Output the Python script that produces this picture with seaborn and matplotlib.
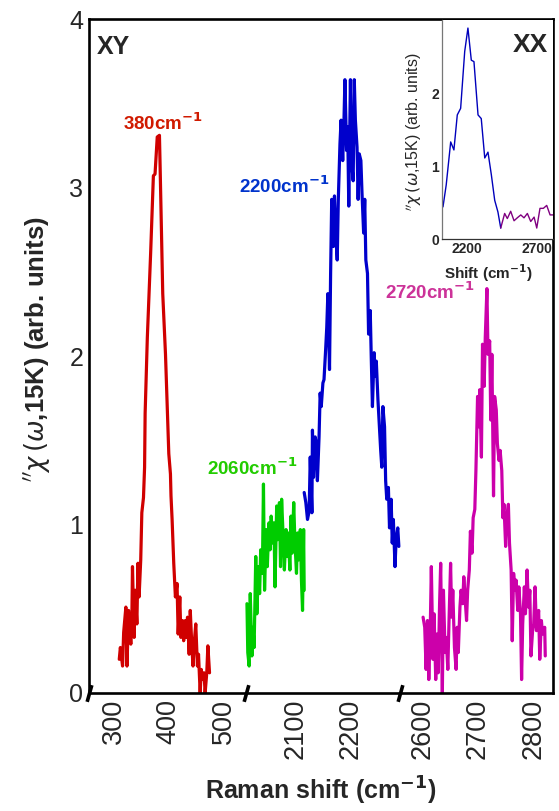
import numpy as np
import pandas as pd
import matplotlib
matplotlib.use("Agg")
import matplotlib.pyplot as plt
import seaborn as sns
from matplotlib.transforms import blended_transform_factory
from matplotlib.ticker import NullLocator

# ---------------- data ----------------
red_x = [310, 312, 316, 318, 322, 324, 327, 331, 333, 334, 337, 339, 342, 344, 346, 349, 351, 354,
         356, 357, 361, 367, 372, 375, 379, 383, 384, 389, 394, 400, 403, 404, 406, 409, 412, 415,
         417, 420, 422, 425, 427, 430, 432, 434, 437, 439, 442, 444, 447, 449, 452, 454, 457, 459,
         461, 464, 466, 469, 471, 474]
red_y = [0.20, 0.27, 0.16, 0.36, 0.51, 0.16, 0.49, 0.29, 0.47, 0.75, 0.33, 0.61, 0.41, 0.77, 0.57,
         0.79, 1.07, 1.16, 1.34, 1.66, 2.11, 2.61, 3.07, 3.08, 3.30, 3.31, 3.16, 2.37, 2.01, 1.42,
         1.30, 1.17, 1.03, 0.77, 0.57, 0.65, 0.35, 0.57, 0.33, 0.43, 0.31, 0.43, 0.33, 0.45, 0.23,
         0.49, 0.27, 0.16, 0.33, 0.41, 0.16, 0.23, 0.00, 0.14, 0.08, 0.12, 0.00, 0.12, 0.28, 0.12]

green_x = [2011, 2012.5, 2015, 2017, 2020, 2022, 2024, 2027, 2029, 2032, 2034, 2036, 2039, 2041,
           2043, 2046, 2048, 2051, 2053, 2055, 2058, 2060, 2062, 2065, 2067, 2070, 2072, 2074,
           2077, 2079, 2082, 2084, 2086, 2089, 2091, 2093, 2096, 2098, 2101, 2103, 2105, 2108,
           2110, 2112, 2114, 2115]
green_y = [0.53, 0.24, 0.16, 0.59, 0.22, 0.39, 0.27, 0.81, 0.47, 0.75, 0.59, 0.85, 0.71, 1.24,
           0.61, 0.97, 0.75, 1.01, 0.85, 1.05, 0.89, 1.01, 0.63, 1.11, 0.91, 1.13, 0.75, 1.15,
           0.91, 0.73, 0.97, 0.81, 0.95, 0.73, 1.05, 0.83, 1.13, 0.91, 0.71, 0.95, 0.79, 0.97,
           0.67, 0.49, 0.97, 0.61]

blue_x = [2115, 2118, 2121, 2124, 2126, 2129, 2130, 2132, 2135, 2137, 2139, 2142, 2144, 2146,
          2149, 2151, 2154, 2156, 2158, 2161, 2163, 2165, 2168, 2170, 2173, 2175, 2177, 2180,
          2182, 2185, 2187, 2189, 2192, 2194, 2196, 2199, 2201, 2204, 2206, 2208, 2211, 2213,
          2215, 2218, 2220, 2223, 2225, 2227, 2230, 2232, 2235, 2237, 2239, 2242, 2244, 2246,
          2249, 2251, 2254, 2256, 2258, 2261, 2263, 2265, 2268, 2270, 2273, 2275, 2277, 2280,
          2282, 2285, 2287]
blue_y = [1.19, 1.13, 1.03, 1.08, 1.40, 1.07, 1.56, 1.28, 1.52, 1.48, 1.26, 1.52, 1.78, 1.70,
          1.84, 1.86, 2.04, 2.17, 2.37, 1.92, 2.49, 2.93, 2.65, 2.95, 2.69, 2.57, 2.93, 3.26,
          3.40, 3.16, 3.36, 3.64, 3.22, 3.36, 2.89, 3.64, 3.16, 3.04, 3.64, 3.40, 3.24, 2.93,
          3.20, 3.16, 2.97, 2.73, 2.93, 2.57, 2.49, 2.13, 2.27, 1.97, 1.70, 2.02, 1.88, 1.97,
          1.74, 1.62, 1.44, 1.34, 1.70, 1.58, 1.26, 1.15, 1.22, 0.98, 1.15, 0.89, 1.03, 0.75,
          0.91, 0.98, 0.87]

mag_x = [2600, 2603, 2605.5, 2608, 2610.4, 2613, 2615, 2618, 2620, 2623, 2625, 2627.5, 2630,
         2632, 2635, 2637, 2640, 2642, 2645, 2647, 2650, 2652, 2654, 2657, 2660, 2662, 2664,
         2667, 2669, 2672, 2674, 2677, 2679, 2681, 2684, 2686, 2689, 2691, 2694, 2696, 2699,
         2701, 2703, 2706, 2708, 2711, 2713, 2716, 2718, 2721, 2723, 2725, 2728, 2730, 2733,
         2735, 2738, 2740, 2743, 2745, 2747, 2750, 2752, 2755, 2757, 2760, 2762, 2764.5, 2767,
         2769, 2772, 2774, 2777, 2779, 2781, 2784, 2786, 2789, 2791.5, 2794, 2796, 2799, 2801,
         2803.5, 2806, 2810, 2812, 2815, 2817, 2821, 2822]
mag_y = [0.45, 0.39, 0.14, 0.43, 0.08, 0.37, 0.75, 0.20, 0.47, 0.08, 0.35, 0.12, 0.53, 0.77,
         0.00, 0.61, 0.24, 0.33, 0.14, 0.41, 0.77, 0.45, 0.61, 0.27, 0.14, 0.39, 0.24, 0.51,
         0.61, 0.53, 0.69, 0.53, 0.43, 0.61, 0.73, 0.96, 0.83, 1.04, 1.09, 1.32, 1.76, 1.58,
         1.80, 1.40, 2.07, 1.82, 2.11, 2.40, 2.01, 2.09, 1.62, 2.01, 1.17, 1.76, 1.68, 1.48,
         1.38, 1.44, 1.32, 1.04, 1.12, 0.87, 1.04, 1.12, 0.89, 0.73, 0.31, 0.71, 0.61, 0.67,
         0.49, 0.63, 0.47, 0.08, 0.41, 0.63, 0.47, 0.73, 0.51, 0.61, 0.22, 0.37, 0.41, 0.63,
         0.37, 0.49, 0.20, 0.43, 0.35, 0.39, 0.22]

inset_blue_x = [2031, 2054, 2086, 2109, 2133, 2157, 2186, 2209, 2233, 2252, 2281, 2304, 2329,
                2352, 2376, 2400, 2423, 2443]
inset_blue_y = [0.44, 0.74, 1.33, 1.22, 1.70, 1.79, 2.57, 2.89, 2.45, 2.43, 1.70, 1.65, 1.11,
                1.19, 0.88, 0.53, 0.37, 0.15]
inset_purple_x = [2443, 2471, 2490, 2514, 2538, 2561, 2586, 2609, 2633, 2657, 2681, 2700, 2723,
                  2747, 2771, 2795, 2816]
inset_purple_y = [0.15, 0.35, 0.28, 0.38, 0.25, 0.29, 0.33, 0.29, 0.35, 0.24, 0.30, 0.15, 0.42,
                  0.42, 0.46, 0.33, 0.33]

main_xticks = [300, 400, 500, 2100, 2200, 2600, 2700, 2800]
main_yticks = [0, 1, 2, 3, 4]
inset_xticks = [2200, 2700]
inset_yticks = [0, 1, 2]

peak_labels = ["380", "2060", "2200", "2720"]

# ---------------- style ----------------
sns.set_style("white")
plt.rcParams["font.family"] = ["Liberation Sans", "DejaVu Sans"]
plt.rcParams["mathtext.fontset"] = "dejavusans"

# broken-axis scale: three segments joined without gaps
SEG = [(255, 540), (2009, 2289), (2558, 2836)]


def fwd(x):
    x = np.asarray(x, dtype=float)
    o1 = SEG[0][1] - SEG[0][0]
    o2 = o1 + SEG[1][1] - SEG[1][0]
    return np.where(x < 1274, x - SEG[0][0],
                    np.where(x < 2423, x - SEG[1][0] + o1, x - SEG[2][0] + o2))


def inv(u):
    u = np.asarray(u, dtype=float)
    o1 = SEG[0][1] - SEG[0][0]
    o2 = o1 + SEG[1][1] - SEG[1][0]
    return np.where(u < o1, u + SEG[0][0],
                    np.where(u < o2, u - o1 + SEG[1][0], u - o2 + SEG[2][0]))


fig = plt.figure(figsize=(5.59, 8.11), dpi=100)
ax = fig.add_axes([0.1592, 0.1455, 0.830, 0.831])

series = [
    (red_x, red_y, "#d00000"),
    (green_x, green_y, "#00cc00"),
    (blue_x, blue_y, "#0000cc"),
    (mag_x, mag_y, "#cc00aa"),
]
for xs, ys, col in series:
    df = pd.DataFrame({"shift": xs, "chi": ys})
    sns.lineplot(data=df, x="shift", y="chi", ax=ax, color=col, lw=2.3,
                 estimator=None, sort=False)

ax.set_xscale("function", functions=(fwd, inv))
ax.set_xlim(SEG[0][0], SEG[2][1])
ax.set_ylim(0, 4)
ax.set_xticks(main_xticks)
ax.set_xticklabels([str(t) for t in main_xticks], rotation=90, fontsize=19.5)
ax.xaxis.set_minor_locator(NullLocator())
ax.set_yticks(main_yticks)
ax.set_yticklabels([str(t) for t in main_yticks], fontsize=18)
ax.tick_params(axis="both", direction="in", length=6, width=1.8, pad=4)
for s in ax.spines.values():
    s.set_linewidth(1.9)
    s.set_color("black")

ax.set_xlabel(r"Raman shift (cm$^{\mathbf{-1}}$)", fontsize=18, fontweight="bold")
ax.xaxis.set_label_coords(0.5, -0.122)
ax.set_ylabel(r"$^{\prime\prime}\chi\,(\omega$,15K) (arb. units)", fontsize=18.5,
              fontweight="bold")
ax.yaxis.set_label_coords(-0.08, 0.51)

# break marks on the x axis
trans = blended_transform_factory(ax.transData, ax.transAxes)
ax.plot([SEG[0][0], SEG[0][1], SEG[1][1]], [0, 0, 0], transform=trans, ls="none",
        marker=[(-0.28, -1), (0.28, 1)], ms=12, mew=2.6, color="black", clip_on=False)

# peak annotations
ax.text(390, 3.38, peak_labels[0] + r"cm$^{\mathbf{-1}}$", color="#d01a00", fontsize=13.5,
        fontweight="bold", ha="center", va="center")
ax.text(2020, 1.335, peak_labels[1] + r"cm$^{\mathbf{-1}}$", color="#22cc00", fontsize=13.5,
        fontweight="bold", ha="center", va="center")
ax.text(2079, 3.01, peak_labels[2] + r"cm$^{\mathbf{-1}}$", color="#0033cc", fontsize=13.5,
        fontweight="bold", ha="center", va="center")
ax.text(2613, 2.38, peak_labels[3] + r"cm$^{\mathbf{-1}}$", color="#cc3399", fontsize=13.5,
        fontweight="bold", ha="center", va="center")

ax.text(0.016, 0.977, "XY", transform=ax.transAxes, fontsize=18, fontweight="bold",
        ha="left", va="top")

# ---------------- inset ----------------
axin = fig.add_axes([0.7907, 0.7053, 0.1986, 0.270])
axin.set_facecolor("white")
sns.lineplot(x=inset_blue_x, y=inset_blue_y, ax=axin, color="#0000bb", lw=1.0,
             estimator=None, sort=False)
sns.lineplot(x=inset_purple_x, y=inset_purple_y, ax=axin, color="#800080", lw=1.0,
             estimator=None, sort=False)
axin.set_xlim(2024, 2816)
axin.set_ylim(0, 3.0)
axin.set_xticks(inset_xticks)
axin.set_xticklabels([str(t) for t in inset_xticks], fontsize=10, fontweight="bold")
axin.set_yticks(inset_yticks)
axin.set_yticklabels([str(t) for t in inset_yticks], fontsize=10, fontweight="bold")
axin.tick_params(axis="both", direction="in", length=3, width=0.8, pad=2)
axin.spines["top"].set_visible(False)
axin.spines["right"].set_visible(False)
axin.spines["left"].set_color("#777777")
axin.spines["left"].set_linewidth(0.9)
axin.spines["bottom"].set_color("#333333")
axin.spines["bottom"].set_linewidth(0.9)
axin.set_xlabel(r"Shift (cm$^{\mathbf{-1}}$)", fontsize=11, fontweight="bold")
axin.xaxis.set_label_coords(0.42, -0.105)
axin.set_ylabel(r"$^{\prime\prime}\chi\,(\omega$,15K) (arb. units)", fontsize=11.5)
axin.yaxis.set_label_coords(-0.16, 0.49)
axin.text(0.955, 0.94, "XX", transform=axin.transAxes, fontsize=19, fontweight="bold",
          ha="right", va="top")

fig.savefig("out.png", dpi=100)
